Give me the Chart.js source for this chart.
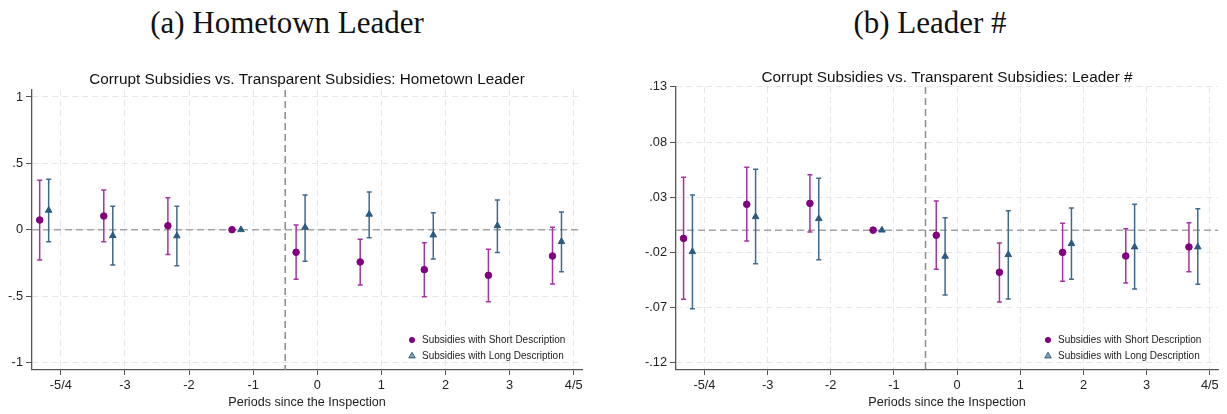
<!DOCTYPE html>
<html>
<head>
<meta charset="utf-8">
<script src="https://cdn.jsdelivr.net/npm/chart.js@4/dist/chart.umd.min.js"></script>
<style>
  body { margin: 0; background: #fff; width: 1227px; height: 414px; position: relative; overflow: hidden; }
  .hd { position: absolute; top: 7px; font-family: "Liberation Serif", serif; font-size: 31px; line-height: 31px; color: #111; text-align: center; white-space: nowrap; }
  canvas { position: absolute; top: 60px; }
</style>
</head>
<body>
<div class="hd" style="left:87px;width:400px">(a) Hometown Leader</div>
<div class="hd" style="left:730px;width:400px">(b) Leader #</div>
<canvas id="chartA" width="600" height="354" style="left:0"></canvas>
<canvas id="chartB" width="612" height="354" style="left:615px"></canvas>
<script>
const periods = [-4, -3, -2, -1, 0, 1, 2, 3, 4];
const periodLabels = ['-5/4', '-3', '-2', '-1', '0', '1', '2', '3', '4/5'];
const seriesNames = ['Subsidies with Short Description', 'Subsidies with Long Description'];

// (a) hometown leader
const homeShort   = [0.073, 0.103, 0.030, 0, -0.170, -0.243, -0.301, -0.344, -0.198];
const homeShortLo = [-0.229, -0.090, -0.186, null, -0.374, -0.417, -0.505, -0.542, -0.409];
const homeShortHi = [0.373, 0.299, 0.241, null, 0.035, -0.072, -0.098, -0.148, 0.018];
const homeLong    = [0.146, -0.045, -0.047, 0, 0.018, 0.116, -0.040, 0.030, -0.090];
const homeLongLo  = [-0.090, -0.266, -0.271, null, -0.238, -0.060, -0.221, -0.171, -0.316];
const homeLongHi  = [0.380, 0.176, 0.176, null, 0.261, 0.284, 0.128, 0.224, 0.133];
const homeTicks = [-1, -0.5, 0, 0.5, 1];
const homeTickLabels = ['-1', '-.5', '0', '.5', '1'];

// (b) leader #
const numShort   = [-0.0075, 0.0234, 0.0243, 0, -0.0047, -0.0383, -0.0202, -0.0235, -0.0153];
const numShortLo = [-0.0628, -0.0099, -0.0017, null, -0.0356, -0.0652, -0.0465, -0.0480, -0.0377];
const numShortHi = [0.0480, 0.0570, 0.0503, null, 0.0264, -0.0117, 0.0062, 0.0013, 0.0067];
const numLong    = [-0.0196, 0.0122, 0.0104, 0, -0.0238, -0.0223, -0.0123, -0.0153, -0.0153];
const numLongLo  = [-0.0713, -0.0305, -0.0268, null, -0.0589, -0.0625, -0.0447, -0.0535, -0.0492];
const numLongHi  = [0.0320, 0.0552, 0.0470, null, 0.0113, 0.0176, 0.0200, 0.0234, 0.0194];
const numTicks = [-0.12, -0.07, -0.02, 0.03, 0.08, 0.13];
const numTickLabels = ['-.12', '-.07', '-.02', '.03', '.08', '.13'];

const SHORT_SHIFT = -0.33, LONG_SHIFT = -0.19;
const PURPLE = '#800080', PURPLE_BAR = '#a8329f';
const BLUE = '#2b5a82', BLUE_BAR = '#3e6a90';
const FONT = 'Liberation Sans';

function points(est, lo, hi, shift) {
  return est.map((v, i) => ({ x: periods[i] + shift, y: v, lo: lo[i], hi: hi[i] }));
}

// dashed reference lines + error bars, drawn under the markers
const errorBars = {
  id: 'errorBars',
  beforeDatasetsDraw(chart) {
    const { ctx, chartArea: a, scales: { x, y } } = chart;
    ctx.save();
    ctx.lineWidth = 1.5;
    ctx.setLineDash([7, 4]);
    ctx.strokeStyle = '#a3a3a3';
    const y0 = y.getPixelForValue(0);
    ctx.beginPath(); ctx.moveTo(a.left, y0); ctx.lineTo(a.right, y0); ctx.stroke();
    ctx.strokeStyle = '#8c8c8c';
    const xv = x.getPixelForValue(-0.5);
    ctx.beginPath(); ctx.moveTo(xv, a.top); ctx.lineTo(xv, a.bottom); ctx.stroke();
    ctx.setLineDash([]);
    chart.data.datasets.forEach(ds => {
      ctx.strokeStyle = ds.barColor;
      ds.data.forEach(p => {
        if (p.lo == null) return;
        const px = x.getPixelForValue(p.x);
        const y1 = y.getPixelForValue(p.lo), y2 = y.getPixelForValue(p.hi);
        ctx.beginPath();
        ctx.moveTo(px, y1); ctx.lineTo(px, y2);
        ctx.moveTo(px - 2.5, y1); ctx.lineTo(px + 2.5, y1);
        ctx.moveTo(px - 2.5, y2); ctx.lineTo(px + 2.5, y2);
        ctx.stroke();
      });
    });
    ctx.restore();
  }
};

const legendBox = {
  id: 'legendBox',
  afterDatasetsDraw(chart) {
    const { ctx, chartArea: a } = chart;
    ctx.save();
    ctx.font = '10px "' + FONT + '"';
    ctx.textBaseline = 'middle';
    chart.data.datasets.forEach((ds, i) => {
      const mx = a.right - 170, my = a.bottom - 30 + i * 15.5;
      ctx.fillStyle = ds.pointBackgroundColor;
      ctx.beginPath();
      if (ds.pointStyle === 'triangle') {
        ctx.moveTo(mx, my - 3.2); ctx.lineTo(mx + 3.2, my + 2.4); ctx.lineTo(mx - 3.2, my + 2.4);
        ctx.closePath();
        ctx.fillStyle = '#8aa6c0';
        ctx.fill();
        ctx.strokeStyle = BLUE; ctx.lineWidth = 1; ctx.stroke();
      } else {
        ctx.arc(mx, my, 3, 0, Math.PI * 2);
        ctx.fill();
      }
      ctx.fillStyle = '#222';
      ctx.fillText(ds.label, mx + 10, my + 0.5);
    });
    ctx.restore();
  }
};

function makeChart(id, title, shortPts, longPts, yMin, yMax, yTicks, yLabels, yWidth, padRight, titlePad) {
  return new Chart(document.getElementById(id), {
    type: 'scatter',
    data: {
      datasets: [
        { label: seriesNames[0], data: shortPts, pointStyle: 'circle', pointRadius: 3.3,
          pointBackgroundColor: PURPLE, pointBorderColor: PURPLE, pointBorderWidth: 1, barColor: PURPLE_BAR },
        { label: seriesNames[1], data: longPts, pointStyle: 'triangle', pointRadius: 3.8,
          pointBackgroundColor: BLUE, pointBorderColor: BLUE, pointBorderWidth: 1, barColor: BLUE_BAR }
      ]
    },
    options: {
      responsive: false,
      animation: false,
      layout: { padding: { right: padRight } },
      plugins: {
        legend: { display: false },
        tooltip: { enabled: false },
        title: {
          display: true, text: title, fullSize: false, color: '#111',
          font: { family: FONT, size: 15.3, weight: 'normal' },
          padding: titlePad
        }
      },
      scales: {
        x: {
          type: 'linear', min: -4.45, max: 4.13,
          afterBuildTicks: s => { s.ticks = periods.map(v => ({ value: v })); },
          afterFit: s => { s.height = 44; },
          ticks: {
            callback: v => periodLabels[periods.indexOf(v)],
            color: '#222', font: { family: FONT, size: 12.8 }, padding: 3,
            maxRotation: 0, autoSkip: false
          },
          grid: { color: '#e6e6e6', lineWidth: 1, tickColor: '#555', tickLength: 5 },
          border: { color: '#555', width: 1.3, dash: [6, 4] },
          title: {
            display: true, text: 'Periods since the Inspection', color: '#222',
            font: { family: FONT, size: 12.6 }, padding: { top: 0, bottom: 4 }
          }
        },
        y: {
          min: yMin, max: yMax,
          afterBuildTicks: s => { s.ticks = yTicks.map(v => ({ value: v })); },
          afterFit: s => { s.width = yWidth; },
          ticks: {
            callback: v => yLabels[yTicks.indexOf(v)],
            color: '#222', font: { family: FONT, size: 12.8 }, padding: 3
          },
          grid: { color: '#e6e6e6', lineWidth: 1, tickColor: '#555', tickLength: 6 },
          border: { color: '#555', width: 1.3, dash: [6, 4] }
        }
      }
    },
    plugins: [errorBars, legendBox]
  });
}

makeChart('chartA', 'Corrupt Subsidies vs. Transparent Subsidies: Hometown Leader',
  points(homeShort, homeShortLo, homeShortHi, SHORT_SHIFT),
  points(homeLong, homeLongLo, homeLongHi, LONG_SHIFT),
  -1.057, 1.053, homeTicks, homeTickLabels, 32, 18, { top: 10.5, bottom: 1.1 });

makeChart('chartB', 'Corrupt Subsidies vs. Transparent Subsidies: Leader #',
  points(numShort, numShortLo, numShortHi, SHORT_SHIFT),
  points(numLong, numLongLo, numLongHi, LONG_SHIFT),
  -0.127, 0.13, numTicks, numTickLabels, 61, 9, { top: 8.6, bottom: 0 });
</script>
</body>
</html>
